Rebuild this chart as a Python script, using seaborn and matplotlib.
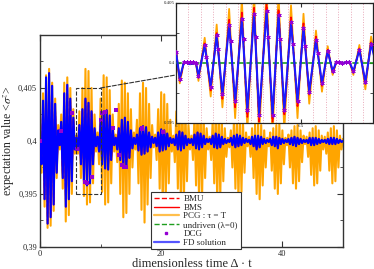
import numpy as np
import matplotlib
matplotlib.use("Agg")
import matplotlib.pyplot as plt
from matplotlib.patches import Rectangle, ConnectionPatch
from matplotlib.lines import Line2D
from matplotlib.ticker import MultipleLocator, FixedLocator
import seaborn as sns

sns.set_style("ticks")
plt.rcParams["font.family"] = ["Liberation Serif", "DejaVu Serif"]
plt.rcParams["mathtext.fontset"] = "stix"

# values are deviations from 0.4 in units of 1e-4
base = 0.4
unit = 1e-4
step = 0.25  # time between plotted extremes in the main panel

fd_bursts = [
    [0, -22, 38, -55, 60, -78, 64, -72, 52, -60, 35, -30, 10],
    [-4, 18, -35, 45, -62, 53, -55, 40, -38, 22, -8],
    [3, -6, 15, -22, 30, -38, 40, -42, 36, -40, 28, -22, 12, -5],
    [4, -10, 18, -22, 27, -26, 29, -27, 24, -18, 12, -4],
    [3, -8, 12, -18, 20, -24, 22, -25, 18, -16, 10, -7, 3],
    [-3, 6, -9, 12, -13, 14, -12, 13, -10, 8, -6, 4, -2],
    [3, -5, 8, -10, 11, -9, 10, -8, 7, -5, 3, -2],
    [2, -4, 6, -8, 9, -9, 8, -7, 5, -4, 2, -2],
    [2, -4, 6, -7, 8, -8, 7, -6, 5, -3, 2, -1],
    [2, -3, 5, -6, 7, -7, 6, -6, 4, -3, 2, -2, 1],
    [-1, 3, -4, 5, -6, 6, -5, 5, -4, 3, -2, 2, -1],
    [1, -3, 4, -5, 5, -8, 5, -6, 4, -3, 2, -2, 1],
    [-1, 2, -4, 4, -5, 4, -7, 3, -3, 2, -2, 1],
    [-1, 2, -3, 3, -4, 4, -5, 3, -3, 2, -2, 1, -1],
    [1, -2, 3, -4, 3, -4, 3, -3, 2, -2, 1, -1],
    [1, -2, 2, -3, 3, -3, 3, -3, 2, -2, 1, -1, 0],
]

pcg_bursts = [
    [0, -30, 45, -62, 62, -82, 68, -80, 55, -66, 40, -35, 15],
    [-8, 25, -45, 55, -76, 60, -70, 50, -50, 30, -12],
    [5, -12, 28, -35, 50, -52, 68, -60, 66, -58, 50, -40, 25, -10],
    [8, -22, 40, -48, 62, -60, 60, -58, 48, -40, 25, -10],
    [6, -20, 35, -50, 57, -72, 55, -68, 45, -50, 30, -25, 8],
    [-8, 20, -40, 45, -65, 55, -77, 50, -60, 35, -35, 15, -6],
    [6, -18, 30, -45, 46, -62, 44, -55, 35, -40, 20, -10],
    [5, -20, 28, -45, 40, -60, 38, -55, 30, -38, 15, -8],
    [5, -18, 25, -42, 36, -58, 34, -52, 26, -35, 12, -8],
    [4, -18, 20, -40, 30, -58, 28, -52, 22, -38, 12, -15, 3],
    [-6, 10, -25, 18, -45, 25, -55, 22, -48, 18, -30, 8, -5],
    [4, -15, 12, -35, 16, -50, 18, -55, 15, -42, 10, -25, 3],
    [-5, 8, -28, 12, -45, 15, -50, 16, -40, 10, -22, 3],
    [-4, 6, -25, 10, -40, 14, -45, 15, -38, 10, -20, 5, -3],
    [4, -15, 8, -32, 12, -42, 14, -40, 10, -28, 5, -8],
    [4, -12, 8, -28, 12, -40, 14, -38, 10, -25, 5, -8, 2],
]

dcg_t = [0.0, 3.4, 5.2, 6.1, 7.4, 7.7, 8.5, 10.0, 10.3, 10.7, 12.0, 12.5,
         13.1, 13.5, 13.9, 14.2, 16.8, 16.9, 20.3]
dcg_dev = [0, 9, 26, -8, -39, -40, -34, 20, 26, 27, 12, 29,
           -13, -23, -25, -25, 11, 12, 8]

undriven_t = [0, 50]
undriven_val = [0.4, 0.4]

# zoomed window (inset)
inset_t = [6.0, 6.015, 6.032, 6.056, 6.080, 6.090, 6.115, 6.139, 6.163, 6.186,
           6.213, 6.237, 6.264, 6.286, 6.313, 6.333, 6.363, 6.387, 6.411, 6.434,
           6.461, 6.487, 6.511, 6.534, 6.561, 6.585, 6.608, 6.628, 6.643, 6.667,
           6.695, 6.711, 6.735, 6.759, 6.782, 6.795]
inset_fd = [9, -13, 1, -1, 0, -11, 15, -20, 23, -26, 32, -32, 37, -39, 41, -43,
            43, -43, 40, -39, 34, -32, 29, -24, 19, -17, 10, -7, 1, 0, 1, -7,
            11, -16, 16, 5]
inset_bmu = [10, -15, 1, -1, 0, -12, 17, -23, 26, -30, 36, -37, 42, -45, 46, -49,
             49, -49, 45, -44, 38, -36, 33, -27, 22, -19, 11, -8, 1, 0, 1, -8,
             12, -18, 18, 6]
inset_bms = [10, -14, 1, -1, 0, -12, 16, -22, 25, -29, 35, -35, 40, -43, 45, -47,
             47, -47, 44, -43, 37, -35, 32, -26, 21, -19, 11, -8, 1, 0, 1, -8,
             12, -17, 17, 6]
inset_pcg = [12, -17, 1, -1, 0, -15, 21, -28, 32, -37, 45, -46, 53, -56, 58, -60,
             61, -61, 57, -56, 48, -46, 41, -34, 27, -24, 14, -10, 1, 0, 1, -10,
             15, -22, 22, 7]
inset_dcg_t = [6.0, 6.015, 6.032, 6.044, 6.056, 6.068, 6.080, 6.090, 6.115, 6.122,
               6.139, 6.163, 6.170, 6.186, 6.213, 6.220, 6.237, 6.264, 6.271,
               6.286, 6.313, 6.320, 6.333, 6.363, 6.370, 6.387, 6.411, 6.418,
               6.434, 6.461, 6.468, 6.487, 6.511, 6.518, 6.534, 6.561, 6.568,
               6.585, 6.608, 6.628, 6.643, 6.655, 6.667, 6.680, 6.695, 6.711,
               6.735, 6.759, 6.782]
inset_dcg_dev = [9, -13, 1, 1, 1, 1, 0, -11, 15, 5, -20, 23, 12, -26, 32, 18,
                 -32, 37, 20, -39, 41, 22, -43, 43, 22, -43, 40, 20, -39, 34,
                 16, -32, 29, 14, -24, 19, 8, -17, 10, -7, 1, 1, 0, 1, 1, -7,
                 11, -16, 16]

fd_dev = np.concatenate(fd_bursts)
pcg_dev = np.concatenate(pcg_bursts)
t_main = np.arange(len(fd_dev)) * step
fd = base + fd_dev * unit
pcg = base + pcg_dev * unit

c_orange = "#FFA500"
c_blue = "#0000FF"
c_red = "#FF0000"
c_green = "#1E9E1E"
c_purple = "#9400D3"

fig = plt.figure(figsize=(3.74, 2.69), dpi=100)
ax = fig.add_axes([0.107, 0.082, 0.81, 0.788])

sns.lineplot(x=t_main, y=pcg, ax=ax, color=c_orange, lw=1.5, estimator=None, sort=False, zorder=1)
sns.lineplot(x=t_main, y=fd, ax=ax, color=c_red, lw=1.0, ls="--", estimator=None, sort=False, zorder=2)
sns.lineplot(x=t_main, y=fd, ax=ax, color=c_red, lw=1.0, estimator=None, sort=False, zorder=2)
sns.lineplot(x=undriven_t, y=undriven_val, ax=ax, color=c_green, lw=1.0, ls="--", estimator=None, zorder=3)
sns.lineplot(x=t_main, y=fd, ax=ax, color=c_blue, lw=1.5, estimator=None, sort=False, zorder=4)
sns.scatterplot(x=dcg_t, y=base + np.array(dcg_dev) * unit, ax=ax, color=c_purple,
                marker="s", s=5, linewidth=0, zorder=5)

ax.set_xlim(0, 50)
ax.set_ylim(0.39, 0.41)
ax.xaxis.set_major_locator(FixedLocator([0, 20, 40]))
ax.xaxis.set_minor_locator(MultipleLocator(10))
ax.set_yticks([0.39, 0.395, 0.4, 0.405])
ax.set_yticklabels(["0,39", "0,395", "0,4", "0,405"])
ax.yaxis.set_minor_locator(MultipleLocator(0.0025))
ax.tick_params(which="both", direction="in", top=True, right=True, labelsize=6,
               color="#333333", pad=2)
ax.tick_params(which="major", length=4)
ax.tick_params(which="minor", length=2.5)
for s in ax.spines.values():
    s.set_linewidth(1.0)
    s.set_color("#333333")
ax.set_xlabel("dimensionless time \u0394 \u00b7 t", fontsize=9, labelpad=0)
ax.set_ylabel(r"expectation value <$\sigma^z$>", fontsize=8.5)
ax.yaxis.set_label_coords(-0.078, 0.5)

# zoom box in main panel
zoom_x, zoom_y, zoom_w, zoom_h = 6, 0.395, 4, 0.01
ax.add_patch(Rectangle((zoom_x, zoom_y), zoom_w, zoom_h, fill=False, ls="--",
                       lw=0.8, ec="#333333", zorder=6))

handles = [
    Line2D([], [], color=c_red, ls="--", lw=1.0),
    Line2D([], [], color=c_red, lw=1.0),
    Line2D([], [], color=c_orange, lw=1.6, alpha=0.7),
    Line2D([], [], color=c_green, ls="--", lw=1.0),
    Line2D([], [], color=c_purple, marker="s", ms=2, ls="none"),
    Line2D([], [], color="#5555FF", lw=1.6),
]
labels = ["BMU", "BMS", "PCG : \u03c4 = T", "undriven (\u03bb=0)", "DCG", "FD solution"]
leg = ax.legend(handles, labels, loc="lower left", bbox_to_anchor=(0.366, -0.012),
                fontsize=6.5, frameon=True, fancybox=False, edgecolor="#333333",
                framealpha=1, handlelength=2.8, labelspacing=0.05, borderpad=0.3,
                handletextpad=0.5, borderaxespad=0)
leg.get_frame().set_linewidth(0.8)
leg.set_zorder(7)

# inset
axi = fig.add_axes([0.4706, 0.543, 0.527, 0.446])
axi.set_facecolor("white")
sns.lineplot(x=inset_t, y=base + np.array(inset_pcg) * unit, ax=axi, color=c_orange,
             lw=1.3, estimator=None, sort=False, zorder=1)
sns.lineplot(x=inset_t, y=base + np.array(inset_bmu) * unit, ax=axi, color=c_red,
             lw=1.2, ls="--", estimator=None, sort=False, zorder=2)
sns.lineplot(x=inset_t, y=base + np.array(inset_bms) * unit, ax=axi, color=c_red,
             lw=1.0, estimator=None, sort=False, zorder=2)
sns.lineplot(x=undriven_t, y=undriven_val, ax=axi, color=c_green, lw=1.2, ls="--",
             estimator=None, zorder=3)
sns.lineplot(x=inset_t, y=base + np.array(inset_fd) * unit, ax=axi, color="#1a1aff",
             lw=1.5, estimator=None, sort=False, zorder=4)
sns.scatterplot(x=inset_dcg_t, y=base + np.array(inset_dcg_dev) * unit, ax=axi,
                color=c_purple, marker=(6, 2, 0), s=7, linewidth=0.6, zorder=5)
axi.set_xlim(6.0, 6.79)
axi.set_ylim(0.395, 0.405)
axi.xaxis.set_major_locator(FixedLocator([6.0, 6.5]))
axi.set_xticklabels(["6", "6.5"])
axi.xaxis.set_minor_locator(MultipleLocator(0.05))
axi.set_yticks([0.395, 0.4, 0.405])
axi.set_yticklabels(["0.395", "0.4", "0.405"])
axi.yaxis.set_minor_locator(MultipleLocator(0.0025))
axi.grid(which="minor", axis="x", color="#E8A8B8", ls=":", lw=0.7)
axi.tick_params(which="both", direction="in", top=True, right=True, labelsize=3.5,
                color="#333333", pad=1)
axi.tick_params(which="major", length=3)
axi.tick_params(which="minor", axis="y", length=2)
axi.tick_params(which="minor", axis="x", length=0)
for s in axi.spines.values():
    s.set_linewidth(0.9)
    s.set_color("#222222")
axi.set_zorder(10)

con = ConnectionPatch(xyA=(zoom_x + zoom_w, zoom_y + zoom_h), coordsA=ax.transData,
                      xyB=(0, 0.4), coordsB=axi.transAxes, ls="--", lw=0.8,
                      color="#333333")
fig.add_artist(con)

fig.savefig("out.png", dpi=100)
